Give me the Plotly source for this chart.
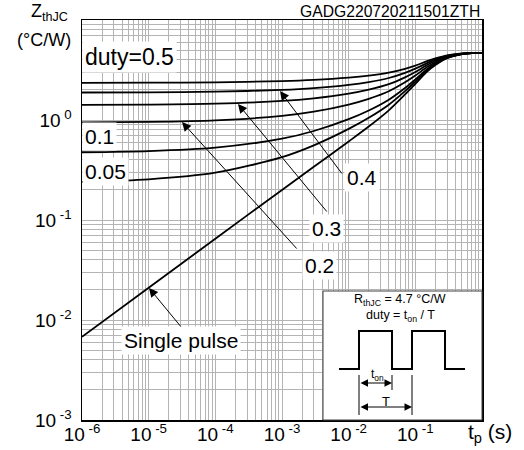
import plotly.graph_objects as go

# ---- data ----
t_s = [1e-6, 1e-5, 1e-4, 1e-3, 3e-3, 1e-2, 2e-2, 4e-2, 7e-2, 0.1, 0.15, 0.2, 0.3, 0.5, 0.7, 1.0]
z_single = [0.0068, 0.021, 0.065, 0.20, 0.34, 0.61, 0.86, 1.25, 1.80, 2.30, 3.05, 3.55, 4.15, 4.55, 4.67, 4.70]
z_d050 = [2.353, 2.361, 2.383, 2.45, 2.52, 2.655, 2.78, 2.975, 3.25, 3.50, 3.875, 4.125, 4.425, 4.625, 4.685, 4.70]
z_d040 = [1.884, 1.893, 1.919, 2.00, 2.084, 2.246, 2.396, 2.63, 2.96, 3.26, 3.71, 4.01, 4.37, 4.61, 4.682, 4.70]
z_d030 = [1.415, 1.425, 1.456, 1.55, 1.648, 1.837, 2.012, 2.285, 2.67, 3.02, 3.545, 3.895, 4.315, 4.595, 4.679, 4.70]
z_d020 = [0.945, 0.957, 0.992, 1.10, 1.212, 1.428, 1.628, 1.94, 2.38, 2.78, 3.38, 3.78, 4.26, 4.58, 4.676, 4.70]
z_d010 = [0.476, 0.489, 0.529, 0.65, 0.776, 1.019, 1.244, 1.595, 2.09, 2.54, 3.215, 3.665, 4.205, 4.565, 4.673, 4.70]
z_d005 = [0.241, 0.255, 0.297, 0.425, 0.558, 0.815, 1.052, 1.423, 1.945, 2.42, 3.133, 3.608, 4.178, 4.558, 4.672, 4.70]

series_names = ["duty=0.5", "0.4", "0.3", "0.2", "0.1", "0.05", "Single pulse"]
series_values = [z_d050, z_d040, z_d030, z_d020, z_d010, z_d005, z_single]

x_tickvals = [1e-6, 1e-5, 1e-4, 1e-3, 1e-2, 1e-1]
x_ticktext = ["10<sup>\u00a0-6</sup>", "10<sup>\u00a0-5</sup>", "10<sup>\u00a0-4</sup>",
              "10<sup>\u00a0-3</sup>", "10<sup>\u00a0-2</sup>", "10<sup>\u00a0-1</sup>"]
y_tickvals = [1e-3, 1e-2, 1e-1, 1]
y_ticktext = ["10<sup>\u00a0-3</sup>", "10<sup>\u00a0-2</sup>", "10<sup>\u00a0-1</sup>", "10<sup>\u00a00</sup>"]

FONT = "Liberation Sans, Arial, sans-serif"
GRID = "#b4b4b4"

fig = go.Figure()
for name, vals in zip(series_names, series_values):
    fig.add_trace(go.Scatter(x=t_s, y=vals, mode="lines", name=name,
                             line=dict(color="black", width=1.8, shape="spline", smoothing=0.8),
                             hoverinfo="skip"))

fig.update_layout(
    width=524, height=450,
    margin=dict(l=82, r=42, t=20, b=30, autoexpand=False),
    paper_bgcolor="white", plot_bgcolor="white",
    showlegend=False,
    font=dict(family=FONT, color="black"),
)
axis_common = dict(
    type="log", showgrid=True, gridcolor=GRID, gridwidth=1,
    minor=dict(dtick="D1", showgrid=True, gridcolor=GRID, gridwidth=1, ticks=""),
    showline=True, linecolor="black", linewidth=1.5, mirror=True,
    ticks="", zeroline=False, automargin=False,
    tickfont=dict(size=19, family=FONT, color="black"),
)
fig.update_xaxes(range=[-6, 0], tickmode="array", tickvals=x_tickvals, ticktext=x_ticktext,
                 ticklabelstandoff=-3, **axis_common)
fig.update_yaxes(range=[-3, 1], tickmode="array", tickvals=y_tickvals, ticktext=y_ticktext,
                 ticklabelstandoff=5, **axis_common)

# ---- curve labels (log-unit positions) ----
def label(text, x, y, xanchor="center", size=21):
    fig.add_annotation(x=x, y=y, xref="x", yref="y", text=text, showarrow=False,
                       xanchor=xanchor, yanchor="middle", bgcolor="white", borderpad=2,
                       font=dict(family=FONT, size=size, color="black"))

label("duty=0.5", -6.0, 0.63, xanchor="left", size=23)
label("0.1", -6.0, -0.16, xanchor="left")
label("0.05", -6.0, -0.51, xanchor="left")
label("0.4", -1.80, -0.575)
label("0.3", -2.34, -1.085)
label("0.2", -2.445, -1.45)
label("Single pulse", -4.5225, -2.2)

def arrow(x, y, ax, ay):
    fig.add_annotation(x=x, y=y, ax=ax, ay=ay, xref="x", yref="y", axref="x", ayref="y",
                       text="", showarrow=True, arrowhead=2, arrowsize=1.8, arrowwidth=1,
                       arrowcolor="black", standoff=0, startstandoff=0)

arrow(-3.03, 0.29, -2.085, -0.55)
arrow(-3.66, 0.16, -2.31, -0.93)
arrow(-4.5, -0.02, -2.76, -1.30)
arrow(-4.995, -1.68, -4.5, -2.08)

# ---- axis titles & tag ----
fig.add_annotation(x=-0.1325, y=1.0175, xref="paper", yref="paper", text="Z<sub>thJC</sub>",
                   showarrow=False, xanchor="left", yanchor="middle",
                   font=dict(family=FONT, size=18, color="black"))
fig.add_annotation(x=-0.0225, y=0.95, xref="paper", yref="paper", text="(°C/W)",
                   showarrow=False, xanchor="right", yanchor="middle",
                   font=dict(family=FONT, size=18, color="black"))
fig.add_annotation(x=1.0, y=1.02, xref="paper", yref="paper", text="GADG220720211501ZTH",
                   showarrow=False, xanchor="right", yanchor="middle",
                   font=dict(family=FONT, size=15.7, color="black"))
fig.add_annotation(x=1.02, y=-0.0325, xref="paper", yref="paper", text="t<sub>p</sub> (s)",
                   showarrow=False, xanchor="center", yanchor="middle",
                   font=dict(family=FONT, size=21, color="black"))

# ---- inset box ----
fig.add_shape(type="rect", xref="x domain", yref="y domain", x0=0.6025, x1=1.0, y0=0.0, y1=0.3225,
              fillcolor="white", line=dict(color="#404040", width=1), layer="above")
pulse = ("M 0.6425 0.1275 L 0.6925 0.1275 L 0.6925 0.2225 L 0.775 0.2225 L 0.775 0.1275 "
         "L 0.825 0.1275 L 0.825 0.2225 L 0.9075 0.2225 L 0.9075 0.1275 L 0.9575 0.1275")
fig.add_shape(type="path", xref="x domain", yref="y domain", path=pulse,
              line=dict(color="black", width=2), layer="above")
for x0, y0, y1 in [(0.6925, 0.1125, 0.0125), (0.775, 0.1125, 0.075), (0.825, 0.1125, 0.0125)]:
    fig.add_shape(type="line", xref="x domain", yref="y domain", x0=x0, x1=x0, y0=y0, y1=y1,
                  line=dict(color="black", width=1), layer="above")
for xa, xb, yy in [(0.6925, 0.775, 0.0925), (0.6925, 0.825, 0.0325)]:
    fig.add_annotation(x=xb, y=yy, ax=xa, ay=yy, xref="x domain", yref="y domain",
                       axref="x domain", ayref="y domain", text="", showarrow=True,
                       arrowhead=2, arrowside="end+start", arrowsize=1.5, arrowwidth=1,
                       arrowcolor="black", standoff=0, startstandoff=0)

def inset_text(text, x, y, size):
    fig.add_annotation(x=x, y=y, xref="x domain", yref="y domain", text=text, showarrow=False,
                       xanchor="center", yanchor="middle",
                       font=dict(family=FONT, size=size, color="black"))

inset_text("R<sub>thJC</sub> = 4.7 °C/W", 0.795, 0.30, 12.5)
inset_text("duty = t<sub>on</sub> / T", 0.795, 0.26, 12.5)
inset_text("t<sub>on</sub>", 0.7375, 0.112, 12)
inset_text("T", 0.76, 0.0475, 13)

# remove the default 8px page margin so the figure sits at the window's top-left corner
fig.write_html("out.html", config={"displayModeBar": False, "staticPlot": True},
               post_script="document.body.style.margin='0px';")
